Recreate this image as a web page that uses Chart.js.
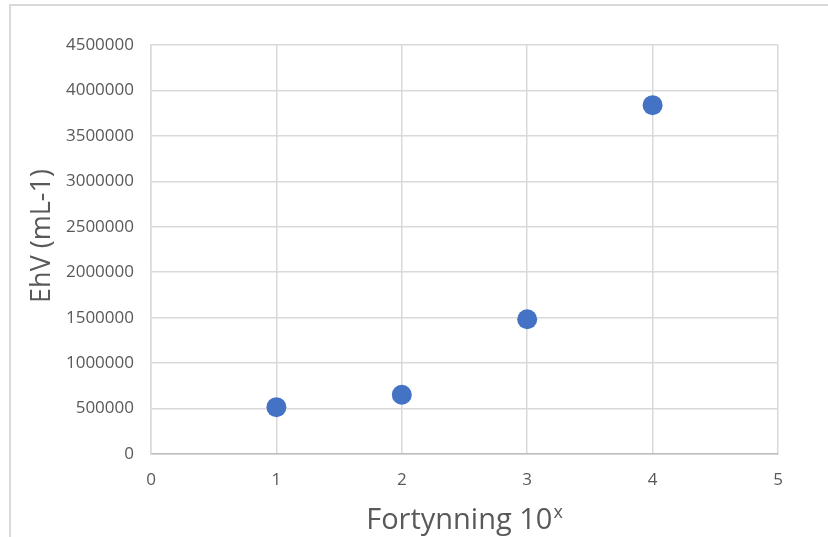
<!DOCTYPE html>
<html lang="en">
<head>
  <meta charset="UTF-8">
  <title>EhV vs Fortynning</title>
  <style>
    body {
      margin: 0;
      padding: 0;
      background-color: #ffffff;
    }
    #frame {
      position: absolute;
      left: 9px;
      top: 4px;
      width: 840px;
      height: 560px;
      border: 2px solid #d9d9d9;
    }
    #chart-container {
      position: absolute;
      left: 0;
      top: 0;
      width: 828px;
      height: 537px;
    }
  </style>
  <script src="https://cdn.jsdelivr.net/npm/chart.js"></script>
</head>
<body>
  <div id="frame"></div>
  <div id="chart-container">
    <canvas id="ehvChart" width="828" height="537"></canvas>
  </div>
  <script>
    // data
    const dilution = [1, 2, 3, 4];
    const ehv = [515000, 652000, 1482000, 3838000];
    const xTicks = [0, 1, 2, 3, 4, 5];
    const yTicks = [0, 500000, 1000000, 1500000, 2000000, 2500000, 3000000, 3500000, 4000000, 4500000];

    const grey = '#595959';
    const gridColor = '#d9d9d9';

    // axis titles drawn by hand so they sit where the reference has them
    const axisTitles = {
      id: 'axisTitles',
      afterDraw(chart) {
        const ctx = chart.ctx;
        ctx.save();
        ctx.fillStyle = grey;
        ctx.textBaseline = 'middle';

        // y title
        ctx.save();
        ctx.font = '27px "Open Sans"';
        ctx.translate(42, 236);
        ctx.rotate(-Math.PI / 2);
        ctx.textAlign = 'center';
        ctx.fillText('EhV (mL-1)', 0, 0);
        ctx.restore();

        // x title with superscript x
        const main = 'Fortynning 10';
        const sup = 'x';
        ctx.font = '29px "Open Sans"';
        const w1 = ctx.measureText(main).width;
        ctx.font = '18px "Open Sans"';
        const w2 = ctx.measureText(sup).width;
        const start = 464 - (w1 + w2) / 2;
        ctx.textAlign = 'left';
        ctx.font = '29px "Open Sans"';
        ctx.fillText(main, start, 521);
        ctx.font = '18px "Open Sans"';
        ctx.fillText(sup, start + w1 + 1, 513);
        ctx.restore();
      }
    };

    const ctx = document.getElementById('ehvChart').getContext('2d');
    const ehvChart = new Chart(ctx, {
      type: 'scatter',
      data: {
        datasets: [{
          label: 'EhV',
          data: dilution.map((x, i) => ({ x: x, y: ehv[i] })),
          backgroundColor: '#4472c4',
          borderColor: '#4472c4',
          pointRadius: 10,
          pointHoverRadius: 10,
          borderWidth: 0,
        }],
      },
      options: {
        responsive: false,
        animation: false,
        layout: { padding: { top: 45, right: 50, left: 0, bottom: 0 } },
        plugins: {
          legend: { display: false },
          tooltip: { enabled: false },
        },
        scales: {
          x: {
            type: 'linear',
            min: 0,
            max: 5,
            afterBuildTicks: (scale) => { scale.ticks = xTicks.map(v => ({ value: v })); },
            afterFit: (scale) => { scale.height = 83; },
            grid: {
              color: gridColor,
              lineWidth: 1.5,
              drawTicks: false,
            },
            border: { color: '#bfbfbf', width: 1.5 },
            ticks: {
              color: grey,
              padding: 16,
              font: { family: 'Open Sans', size: 17 },
            },
          },
          y: {
            min: 0,
            max: 4500000,
            afterBuildTicks: (scale) => { scale.ticks = yTicks.map(v => ({ value: v })); },
            afterFit: (scale) => { scale.width = 151; },
            grid: {
              color: gridColor,
              lineWidth: 1.5,
              drawTicks: false,
            },
            border: { color: gridColor, width: 1.5 },
            ticks: {
              color: grey,
              padding: 17,
              font: { family: 'Open Sans', size: 17 },
              callback: (v) => String(v),
            },
          },
        },
      },
      plugins: [axisTitles],
    });
  </script>
</body>
</html>
